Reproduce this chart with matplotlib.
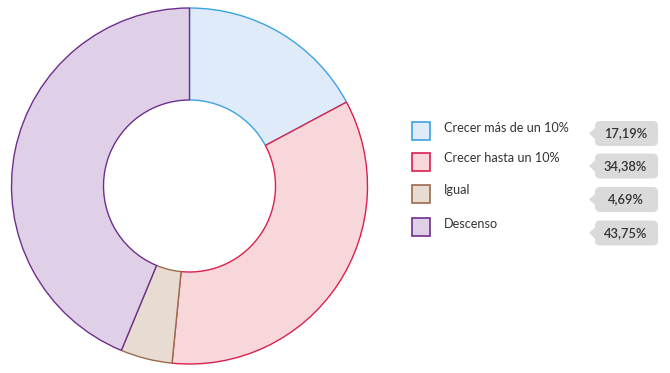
import matplotlib
matplotlib.use("Agg")
import matplotlib.pyplot as plt
from matplotlib.patches import Rectangle, FancyBboxPatch, Polygon

categories = ["Crecer más de un 10%", "Crecer hasta un 10%", "Igual", "Descenso"]
values = [17.19, 34.38, 4.69, 43.75]
value_labels = ["17,19%", "34,38%", "4,69%", "43,75%"]
fill_colors = ["#dfebf8", "#f7d7d9", "#e8dbd1", "#dfd0e8"]
edge_colors = ["#3aa3e3", "#dc1f4f", "#9b6b4b", "#6e2f8c"]

plt.rcParams["font.family"] = ["Lato", "DejaVu Sans"]

W, H = 670, 373
fig = plt.figure(figsize=(W / 100, H / 100), dpi=100)
ax = fig.add_axes([0, 0, 1, 1])
ax.axis("off")

# donut
cx, cy, r_out, r_in = 189.5, H - 186, 178, 86
wedges, _ = ax.pie(values, center=(cx, cy), radius=r_out, startangle=90,
                   counterclock=False, colors=fill_colors,
                   wedgeprops=dict(width=r_out - r_in, linewidth=1.0))
for w, ec in zip(wedges, edge_colors):
    w.set_edgecolor(ec)
ax.set_xlim(0, W)
ax.set_ylim(0, H)
ax.set_aspect("equal")

# legend
sq_y = [131, 161.5, 194, 227]
box_y = [133.5, 166, 199.5, 233]
for i, cat in enumerate(categories):
    yc = H - sq_y[i]
    ax.add_patch(Rectangle((412, yc - 9), 18, 18, facecolor=fill_colors[i],
                           edgecolor=edge_colors[i], linewidth=1.2))
    ax.text(444, yc + 3.5, cat, fontsize=9.1, color="#333333", va="center", ha="left")

    by = H - box_y[i]
    ax.add_patch(FancyBboxPatch((595, by - 12.5), 63, 25,
                                boxstyle="round,pad=0,rounding_size=5",
                                facecolor="#dadada", edgecolor="none"))
    ax.add_patch(Polygon([(589, by), (595.5, by + 6), (595.5, by - 6)], closed=True,
                         facecolor="#dadada", edgecolor="none"))
    ax.text(625.5, by, value_labels[i], fontsize=9.3, color="#333333",
            va="center", ha="center", fontweight="semibold")

fig.savefig("out.png", dpi=100)
